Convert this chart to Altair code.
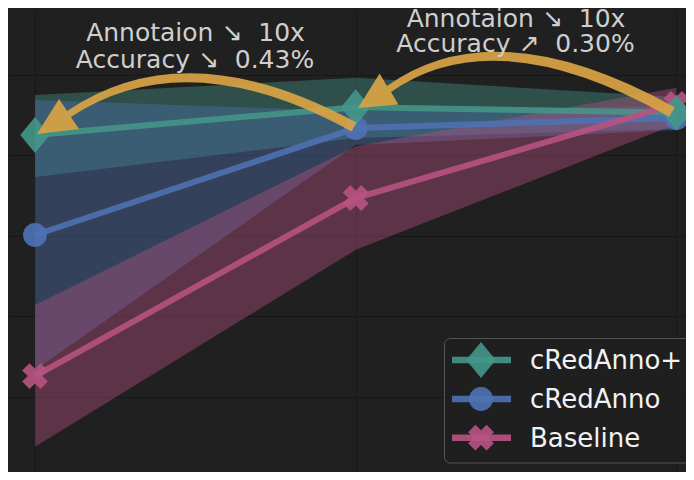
import altair as alt
import pandas as pd

# ---- data ----
pct = [1, 10, 100]
series = ["cRedAnno+", "cRedAnno", "Baseline"]
mean_plus = [86.51, 87.20, 87.06]
lo_plus = [85.46, 86.43, 86.66]
hi_plus = [87.50, 87.93, 87.45]
mean_anno = [84.02, 86.68, 86.93]
lo_anno = [80.66, 86.26, 86.63]
hi_anno = [87.38, 87.10, 87.23]
mean_base = [80.51, 84.94, 87.28]
lo_base = [78.75, 83.65, 86.78]
hi_base = [82.28, 86.23, 87.68]
y_ticks = [80, 82, 84, 86, 88]
x_ticks = [1, 10, 100]
notes_left = ["Annotaion ↘\u00a0 10x", "Accuracy ↘\u00a0 0.43%"]
notes_right = ["Annotaion ↘\u00a0 10x", "Accuracy ↗\u00a0 0.30%"]

colors = ["#44968a", "#4f72b4", "#b85382"]
BG = "#202020"
ARROW = "#d9a444"
FONT = "DejaVu Sans"

means = [mean_plus, mean_anno, mean_base]
los = [lo_plus, lo_anno, lo_base]
his = [hi_plus, hi_anno, hi_base]

rows = []
for s, m, lo, hi in zip(series, means, los, his):
    for p, a, b, c in zip(pct, m, lo, hi):
        rows.append({"pct": p, "series": s, "mean": a, "lo": b, "hi": c})
df = pd.DataFrame(rows)

xscale = alt.Scale(type="log", domain=[0.8237, 107.1], nice=False)
yscale = alt.Scale(domain=[78.124, 89.667], nice=False, zero=False)
xaxis = alt.Axis(values=x_ticks, labels=False, ticks=False, domain=False, title=None, grid=True)
yaxis = alt.Axis(values=y_ticks, labels=False, ticks=False, domain=False, title=None, grid=True)
color = alt.Color("series:N", scale=alt.Scale(domain=series, range=colors), legend=None)

base = alt.Chart(df)
bands = base.mark_area(opacity=0.4).encode(
    x=alt.X("pct:Q", scale=xscale, axis=xaxis),
    y=alt.Y("lo:Q", scale=yscale, axis=yaxis),
    y2="hi:Q",
    color=color,
)
lines = base.mark_line(strokeWidth=6, opacity=0.88).encode(
    x=alt.X("pct:Q", scale=xscale, axis=xaxis),
    y=alt.Y("mean:Q", scale=yscale, axis=yaxis),
    color=color,
)

DIAMOND = "M0,-1L0.82,0L0,1L-0.82,0Z"
marker_specs = {
    "Baseline": dict(shape="cross", size=680, angle=45),
    "cRedAnno": dict(shape="circle", size=570),
    "cRedAnno+": dict(shape=DIAMOND, size=1296),
}
point_layers = []
for s in ["Baseline", "cRedAnno", "cRedAnno+"]:
    c = colors[series.index(s)]
    point_layers.append(
        alt.Chart(df[df["series"] == s]).mark_point(filled=True, opacity=0.9, color=c, **marker_specs[s]).encode(
            x=alt.X("pct:Q", scale=xscale, axis=xaxis),
            y=alt.Y("mean:Q", scale=yscale, axis=yaxis),
        )
    )

one = pd.DataFrame({"k": [0]})
arrow1 = ("M348.4,114.6 Q178.5,22.2 59.1,103.1 L51,91 L29,126 L71,121 L62.9,108.9 "
          "Q178.5,32.8 343.6,123.4 Z")
arrow2 = ("M666.7,99.2 Q487.5,0.2 379,78.1 L371.6,65.6 L350,100 L390.4,96.4 L383,83.9 "
          "Q487.5,10.8 661.3,108.8 Z")
arrows = [
    alt.Chart(one).mark_point(shape=p, size=4, filled=True, color=ARROW, opacity=0.92).encode(
        x=alt.value(0), y=alt.value(0)
    )
    for p in (arrow1, arrow2)
]

def label(txt, x, y, size=25, col="#cfcfcf", align="center", baseline="alphabetic"):
    return alt.Chart(pd.DataFrame({"t": [txt]})).mark_text(
        font=FONT, fontSize=size, color=col, align=align, baseline=baseline
    ).encode(text="t:N", x=alt.value(x), y=alt.value(y))

texts = [
    label(notes_left[0], 187.5, 32.5),
    label(notes_left[1], 187.0, 60.3),
    label(notes_right[0], 508.0, 18.8),
    label(notes_right[1], 507.5, 44.0),
]

# ---- custom legend ----
legend_layers = [
    alt.Chart(one).mark_rect(fill=BG, fillOpacity=0.85, stroke="#555555", strokeWidth=1, cornerRadius=6).encode(
        x=alt.value(436.5), x2=alt.value(686), y=alt.value(330.5), y2=alt.value(455)
    )
]
row_y = [352, 391, 429.7]
for s, yy in zip(series, row_y):
    c = colors[series.index(s)]
    legend_layers.append(
        alt.Chart(one).mark_rule(strokeWidth=6.5, color=c, opacity=0.9).encode(
            x=alt.value(444), x2=alt.value(503), y=alt.value(yy)
        )
    )
    legend_layers.append(
        alt.Chart(one).mark_point(filled=True, opacity=0.9, color=c, **marker_specs[s]).encode(
            x=alt.value(473), y=alt.value(yy)
        )
    )
    legend_layers.append(label(s, 522, yy + 1, size=26, col="#f2f2f2", align="left", baseline="middle"))

chart = alt.layer(bands, lines, *point_layers, *arrows, *texts, *legend_layers).properties(
    width=678, height=464, padding=0, autosize=alt.AutoSizeParams(type="none")
).configure(background=BG).configure_view(stroke=None).configure_axis(
    gridColor="#171717", gridWidth=1
)

chart.save("out.html", embed_options={"renderer": "svg", "actions": False})
